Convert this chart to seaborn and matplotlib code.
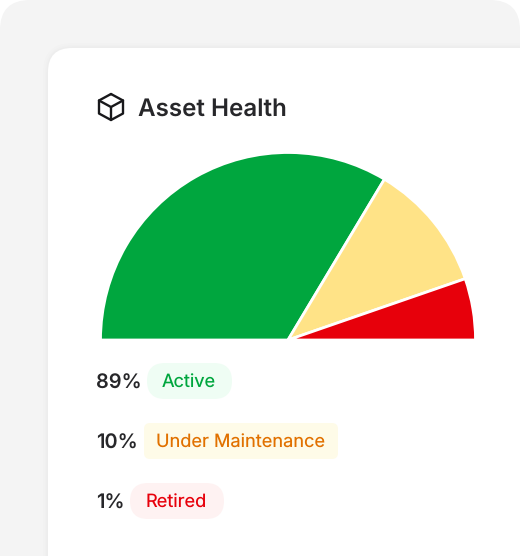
import numpy as np
import seaborn as sns
import matplotlib.pyplot as plt
from matplotlib.patches import FancyBboxPatch

# share of the half circle taken by each slice
slice_shares = [67.2, 22.2, 10.6]
slice_colors = ['#00A63E', '#FFE387', '#E7000B']

percent_labels = ['89%', '10%', '1%']
status_labels = ['Active', 'Under Maintenance', 'Retired']
status_text_colors = ['#00A63E', '#E17100', '#E7000B']
status_fill_colors = ['#EFFDF4', '#FEFBE8', '#FEF2F2']
title = 'Asset Health'

W, H = 520, 556
INK = '#27272A'

sns.set_theme(style='white')
plt.rcParams['font.family'] = ['Inter', 'DejaVu Sans']
plt.rcParams['text.hinting'] = 'none'
plt.rcParams['text.hinting_factor'] = 1

fig = plt.figure(figsize=(W / 100, H / 100), dpi=100)
ax = fig.add_axes([0, 0, 1, 1])


def y(py):
    # picture pixels run downward, the axes run upward
    return H - py


def rounded(x0, y0, x1, y1, r, color, **kw):
    patch = FancyBboxPatch((x0 + r, y(y1) + r), x1 - x0 - 2 * r, y1 - y0 - 2 * r,
                           boxstyle=f'round,pad={r},rounding_size={r}',
                           fc=color, ec='none', **kw)
    ax.add_patch(patch)
    return patch


# half circle
ax.pie(np.array(slice_shares) / 200, colors=slice_colors, normalize=False,
       startangle=180, counterclock=False, radius=187.5, center=(288, y(340)),
       wedgeprops={'edgecolor': 'white', 'linewidth': 2.0, 'zorder': 5})

ax.set_xlim(0, W)
ax.set_ylim(0, H)
ax.set_aspect('auto')
ax.axis('off')

# back panel and card, both run past the edge of the picture
rounded(0, 0, 520, 700, 30, '#F4F4F4', zorder=1)
for grow, alpha in zip([5, 3, 1.5], [0.006, 0.008, 0.012]):
    rounded(48 - grow, 48 - grow, 620, 700, 24 + grow, 'black', alpha=alpha, zorder=2)
rounded(48, 48, 620, 700, 24, 'white', zorder=3)

# cube icon
cube = [(111, 94), (123, 100.5), (123, 113.5), (111, 120), (99, 113.5), (99, 100.5), (111, 94)]
inner = [(99, 100.5), (111, 107), (123, 100.5)]
stem = [(111, 107), (111, 120)]
for pts in [cube, inner, stem]:
    xs, ys = zip(*pts)
    ax.plot(xs, [y(v) for v in ys], color='#18181B', lw=1.7, solid_joinstyle='round',
            solid_capstyle='round', zorder=6)

ax.text(138, y(107), title, fontsize=17.4, fontweight=600, color=INK, va='center_baseline', zorder=6)

# status rows
row_centers = [381, 441, 501]
pill_lefts = [147, 144, 130]
pill_rights = [232, 338, 224]
pill_radius = [18, 6, 18]
for i in range(3):
    ax.text(96, y(row_centers[i]), percent_labels[i], fontsize=14.4, fontweight=600,
            color=INK, va='center_baseline', zorder=6)
    rounded(pill_lefts[i], row_centers[i] - 18, pill_rights[i], row_centers[i] + 18,
            pill_radius[i], status_fill_colors[i], zorder=4)
    ax.text((pill_lefts[i] + pill_rights[i]) / 2 - 0.4, y(row_centers[i]), status_labels[i],
            fontsize=13.1, color=status_text_colors[i], ha='center', va='center_baseline', zorder=6)

fig.savefig('out.png', dpi=100)
